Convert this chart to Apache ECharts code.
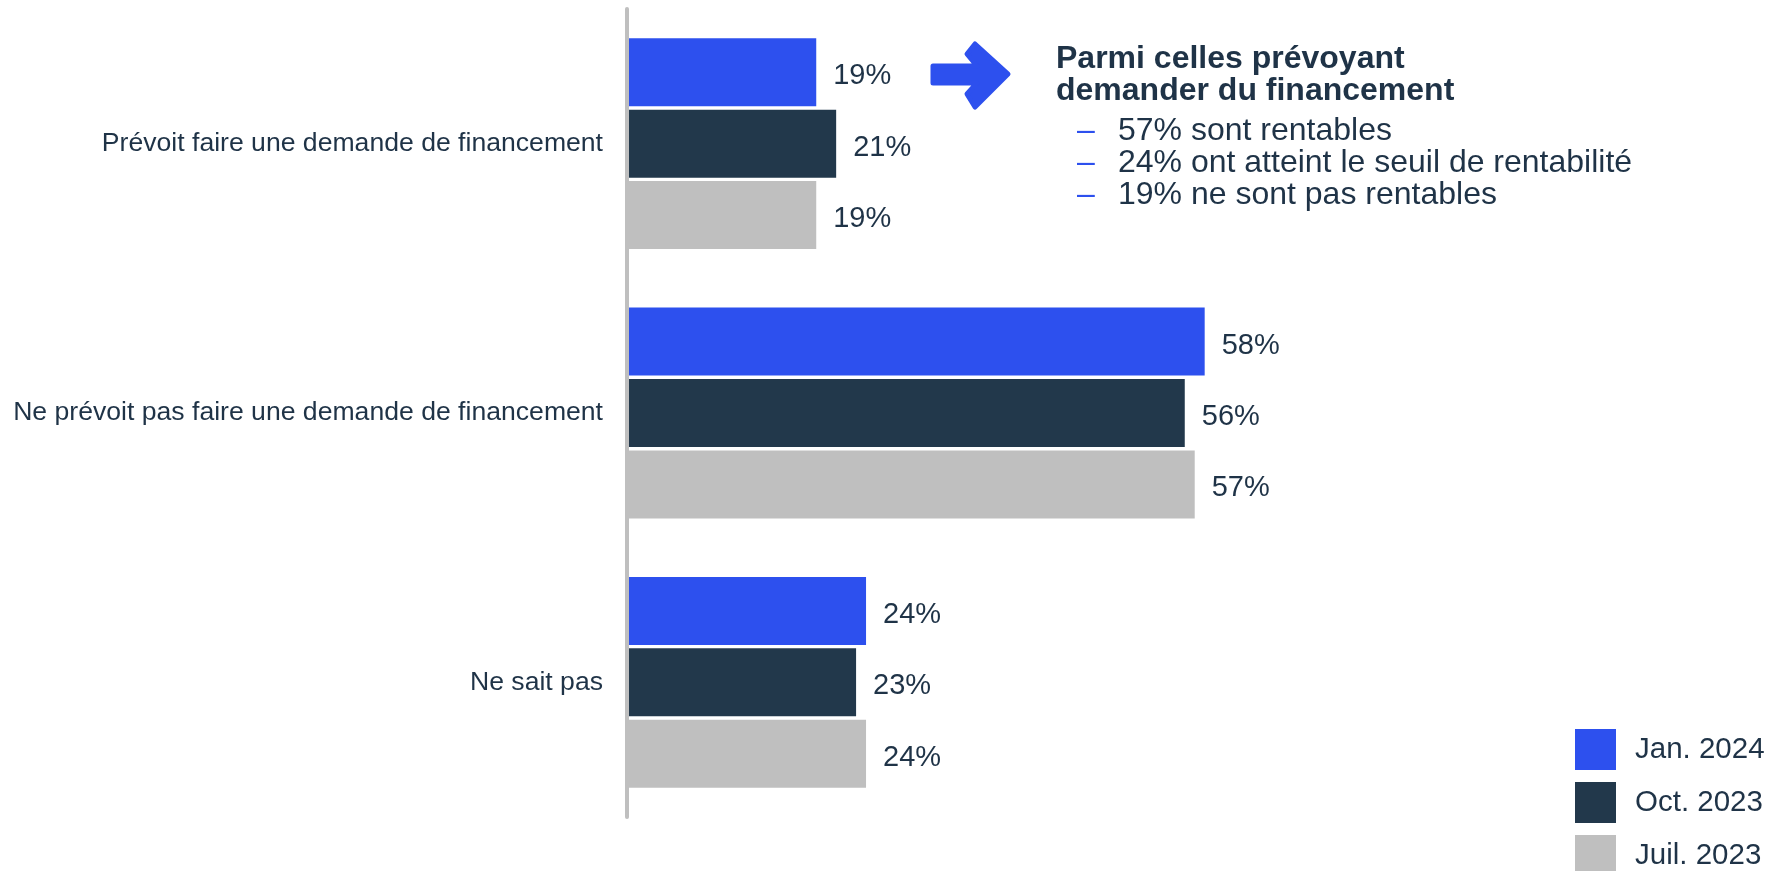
<!DOCTYPE html>
<html>
<head>
<meta charset="utf-8">
<script src="https://cdn.jsdelivr.net/npm/echarts@6/dist/echarts.min.js"></script>
<style>
  html, body { margin: 0; padding: 0; background: #ffffff; }
  #chart { width: 1779px; height: 871px; }
</style>
</head>
<body>
<div id="chart"></div>
<script>
const categories = [
  'Prévoit faire une demande de financement',
  'Ne prévoit pas faire une demande de financement',
  'Ne sait pas'
];
const seriesNames = ['Jan. 2024', 'Oct. 2023', 'Juil. 2023'];
const jan2024 = [19, 58, 24];
const oct2023 = [21, 56, 23];
const jul2023 = [19, 57, 24];
const noteTitle = ['Parmi celles prévoyant', 'demander du financement'];
const noteBullets = [
  '57% sont rentables',
  '24% ont atteint le seuil de rentabilité',
  '19% ne sont pas rentables'
];

const BLUE = '#2D50EE';
const NAVY = '#22384B';
const GRAY = '#BFBFBF';
const TEXT = '#1F3347';
const FONT = "'Liberation Sans', Arial, sans-serif";

const chart = echarts.init(document.getElementById('chart'), null, { renderer: 'canvas' });

function barSeries(name, data, color) {
  return {
    name: name,
    type: 'bar',
    data: data,
    barWidth: 68,
    barGap: '5%',
    itemStyle: { color: color },
    label: {
      show: true,
      position: 'right',
      distance: 17,
      offset: [0, 4],
      formatter: '{c}%',
      color: TEXT,
      fontSize: 29,
      fontFamily: FONT
    }
  };
}

const graphics = [];
// arrow (shaft + head as one shape, softened corners)
graphics.push({
  type: 'polygon',
  shape: {
    points: [
      [933, 66], [977, 66], [967, 54], [975, 44], [1008, 74],
      [975, 107], [967, 94], [977, 83], [933, 83]
    ]
  },
  style: { fill: BLUE, stroke: BLUE, lineWidth: 5, lineJoin: 'round' }
});
noteTitle.forEach(function (t, i) {
  graphics.push({
    type: 'text',
    x: 1056, y: 59 + i * 32,
    style: { text: t, fill: TEXT, font: 'bold 32px ' + FONT, verticalAlign: 'middle', align: 'left' }
  });
});
noteBullets.forEach(function (t, i) {
  graphics.push({
    type: 'text',
    x: 1077, y: 131 + i * 32,
    style: { text: '–', fill: BLUE, font: '32px ' + FONT, verticalAlign: 'middle', align: 'left' }
  });
  graphics.push({
    type: 'text',
    x: 1118, y: 131 + i * 32,
    style: { text: t, fill: TEXT, font: '32px ' + FONT, verticalAlign: 'middle', align: 'left' }
  });
});

chart.setOption({
  animation: false,
  backgroundColor: '#ffffff',
  grid: { left: 627, top: 9, width: 996, height: 808, containLabel: false },
  legend: {
    orient: 'vertical',
    left: 1575,
    top: 729,
    height: 200,
    padding: 0,
    itemWidth: 41,
    itemHeight: 41,
    itemGap: 12,
    icon: 'rect',
    textStyle: { color: TEXT, fontSize: 29.5, fontFamily: FONT, padding: [3, 0, 0, 14] },
    data: seriesNames
  },
  xAxis: {
    type: 'value',
    min: 0,
    max: 100,
    show: false
  },
  yAxis: {
    type: 'category',
    data: categories,
    inverse: true,
    z: 5,
    axisLine: { show: true, lineStyle: { color: GRAY, width: 4 } },
    axisTick: { show: false },
    axisLabel: { color: TEXT, fontSize: 26.6, fontFamily: FONT, margin: 24, padding: [3, 0, 0, 0] },
    splitLine: { show: false }
  },
  series: [
    barSeries(seriesNames[0], jan2024, BLUE),
    barSeries(seriesNames[1], oct2023, NAVY),
    barSeries(seriesNames[2], jul2023, GRAY)
  ],
  graphic: graphics
});
</script>
</body>
</html>
